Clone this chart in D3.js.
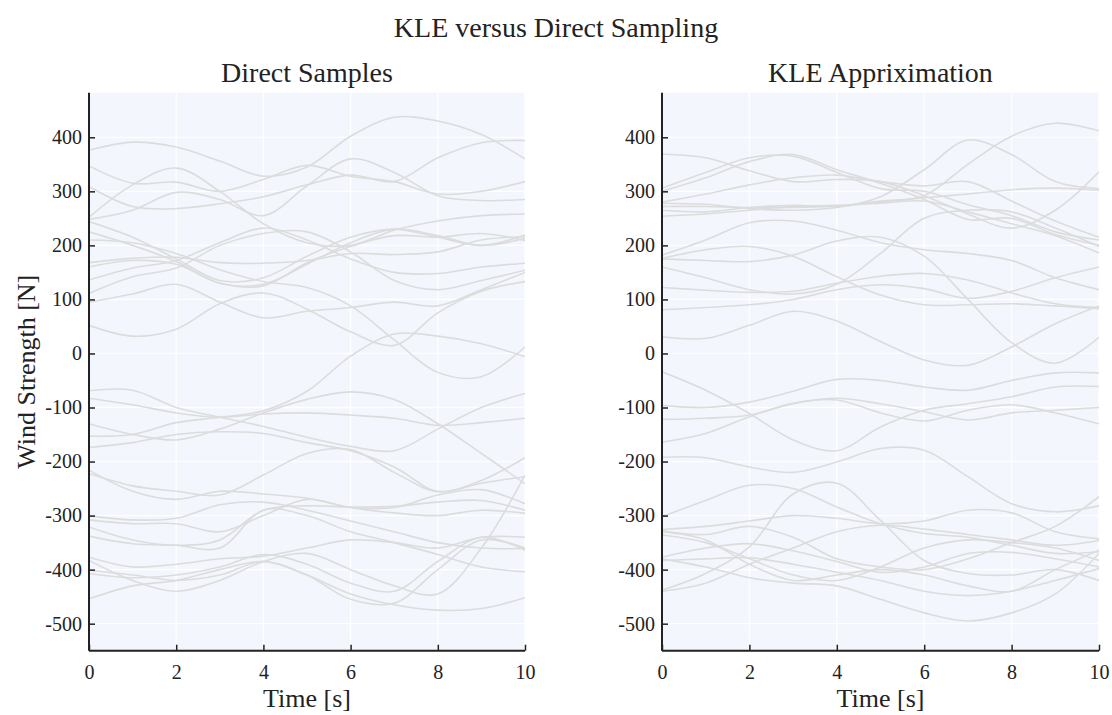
<!DOCTYPE html>
<html>
<head>
<meta charset="utf-8">
<script src="https://cdn.jsdelivr.net/npm/d3@7"></script>
<style>
  body { margin: 0; background: #fff; }
  svg text { font-family: "Liberation Serif", "Times New Roman", serif; fill: #222; }
</style>
</head>
<body>
<div id="chart"></div>
<script>
// sample times (s)
const times = [0, 1, 2, 3, 4, 5, 6, 7, 8, 9, 10];
const xTicks = [0, 2, 4, 6, 8, 10];
const yTicks = [-500, -400, -300, -200, -100, 0, 100, 200, 300, 400];

// Direct samples: one row per realisation, values at each time
const directSamples = [
  [376, 391, 382, 356, 328, 345, 402, 437, 430, 405, 360],
  [347, 315, 317, 300, 322, 348, 328, 318, 295, 300, 318],
  [309, 272, 268, 277, 290, 312, 330, 318, 362, 390, 394],
  [252, 312, 343, 300, 240, 205, 200, 228, 245, 255, 258],
  [248, 265, 298, 285, 255, 310, 360, 335, 292, 283, 285],
  [244, 215, 175, 135, 140, 180, 215, 230, 215, 200, 219],
  [225, 200, 170, 130, 128, 165, 205, 230, 218, 200, 213],
  [210, 205, 185, 155, 133, 122, 88, 25, -35, -43, 12],
  [168, 176, 178, 168, 167, 172, 185, 183, 188, 210, 216],
  [160, 172, 165, 130, 125, 168, 198, 218, 215, 222, 209],
  [136, 158, 172, 205, 232, 210, 175, 150, 148, 160, 167],
  [111, 142, 158, 200, 222, 225, 188, 135, 118, 135, 154],
  [95, 110, 128, 95, 66, 78, 85, 95, 88, 118, 150],
  [52, 32, 45, 92, 112, 82, 40, 15, 75, 115, 133],
  [-153, -150, -128, -118, -106, -70, -5, 36, 32, 18, -6],
  [-69, -68, -100, -118, -135, -155, -172, -180, -140, -100, -74],
  [-83, -95, -110, -118, -112, -110, -114, -120, -133, -128, -120],
  [-130, -150, -160, -140, -110, -85, -71, -85, -130, -185, -241],
  [-174, -165, -150, -145, -148, -165, -180, -210, -255, -235, -193],
  [-216, -255, -270, -255, -260, -268, -285, -295, -300, -290, -296],
  [-222, -245, -255, -262, -225, -185, -178, -220, -256, -240, -228],
  [-300, -308, -305, -280, -275, -290, -310, -330, -350, -360, -361],
  [-308, -315, -315, -330, -300, -270, -285, -285, -262, -252, -278],
  [-321, -345, -355, -345, -290, -282, -284, -283, -275, -272, -290],
  [-338, -352, -355, -360, -290, -300, -330, -350, -372, -395, -404],
  [-377, -395, -390, -380, -375, -360, -345, -350, -360, -340, -340],
  [-383, -420, -440, -420, -385, -370, -400, -430, -445, -360, -225],
  [-401, -410, -420, -410, -385, -410, -445, -465, -475, -472, -452],
  [-407, -415, -410, -395, -372, -390, -425, -440, -385, -340, -364],
  [-454, -430, -420, -400, -385, -410, -455, -462, -400, -345, -360]
];

// KLE approximation realisations
const kleSamples = [
  [369, 362, 338, 318, 322, 318, 292, 258, 232, 265, 336],
  [306, 335, 362, 365, 335, 305, 300, 275, 255, 225, 210],
  [300, 325, 355, 368, 340, 315, 285, 248, 250, 220, 200],
  [280, 295, 312, 325, 330, 318, 310, 318, 282, 245, 215],
  [278, 276, 268, 265, 270, 290, 340, 395, 368, 318, 305],
  [265, 262, 270, 274, 272, 282, 292, 350, 402, 426, 412],
  [272, 272, 270, 270, 273, 280, 288, 295, 303, 306, 302],
  [254, 258, 265, 272, 274, 278, 282, 262, 240, 218, 186],
  [182, 210, 242, 245, 228, 205, 192, 185, 172, 140, 118],
  [176, 192, 198, 180, 142, 108, 90, 90, 92, 88, 83],
  [160, 140, 118, 110, 128, 185, 250, 265, 262, 232, 198],
  [175, 172, 170, 182, 208, 215, 180, 100, 20, -18, 30],
  [122, 117, 113, 115, 130, 143, 148, 136, 112, 92, 85],
  [81, 85, 90, 100, 118, 127, 120, 102, 115, 140, 160],
  [31, 28, 52, 78, 60, 22, -12, -22, 12, 55, 88],
  [-34, -68, -111, -160, -180, -136, -105, -93, -80, -62, -61],
  [-96, -100, -90, -70, -48, -50, -62, -68, -50, -36, -36],
  [-122, -120, -114, -93, -83, -93, -108, -123, -110, -105, -100],
  [-164, -148, -117, -92, -86, -110, -125, -105, -95, -110, -130],
  [-192, -193, -210, -220, -201, -176, -179, -228, -278, -293, -282],
  [-302, -272, -244, -250, -284, -315, -333, -340, -355, -370, -367],
  [-326, -320, -310, -300, -305, -315, -310, -290, -295, -330, -343],
  [-328, -335, -320, -340, -380, -395, -400, -380, -350, -320, -265],
  [-336, -350, -380, -410, -420, -395, -360, -345, -350, -360, -383],
  [-377, -360, -352, -365, -385, -405, -395, -370, -368, -380, -395],
  [-383, -380, -378, -390, -405, -420, -440, -448, -440, -420, -398],
  [-438, -407, -358, -260, -240, -309, -383, -407, -410, -400, -420],
  [-440, -425, -390, -360, -330, -318, -325, -335, -345, -355, -346],
  [-380, -395, -415, -425, -430, -455, -480, -495, -480, -445, -370],
  [-330, -345, -390, -420, -410, -400, -410, -430, -440, -400, -364]
];

const W = 1112, H = 715;
const yDomain = [-550, 482.5];
const panels = [
  { title: "Direct Samples", data: directSamples, x0: 89, x1: 525, ylabel: true },
  { title: "KLE Appriximation", data: kleSamples, x0: 662, x1: 1099, ylabel: false }
];
const plotTop = 92.7, plotBottom = 650.7;

const svg = d3.select("#chart").append("svg").attr("width", W).attr("height", H);

svg.append("text").attr("x", 556).attr("y", 37).attr("text-anchor", "middle")
  .attr("font-size", 28).text("KLE versus Direct Sampling");

panels.forEach((p, i) => {
  const x = d3.scaleLinear().domain([0, 10]).range([p.x0, p.x1]);
  const y = d3.scaleLinear().domain(yDomain).range([plotBottom, plotTop]);
  const g = svg.append("g");

  g.append("rect").attr("x", p.x0).attr("y", plotTop).attr("width", p.x1 - p.x0).attr("height", plotBottom - plotTop)
    .attr("fill", "#f3f6fd");

  // white grid
  g.selectAll(".gx").data(xTicks).join("line")
    .attr("x1", d => x(d)).attr("x2", d => x(d)).attr("y1", plotTop).attr("y2", plotBottom)
    .attr("stroke", "#fff").attr("stroke-width", 1.3);
  g.selectAll(".gy").data(yTicks).join("line")
    .attr("x1", p.x0).attr("x2", p.x1).attr("y1", d => y(d)).attr("y2", d => y(d))
    .attr("stroke", "#fff").attr("stroke-width", 1.3);

  svg.append("clipPath").attr("id", "clip" + i).append("rect")
    .attr("x", p.x0).attr("y", plotTop).attr("width", p.x1 - p.x0).attr("height", plotBottom - plotTop);

  const line = d3.line().x((d, k) => x(times[k])).y(d => y(d)).curve(d3.curveCatmullRom.alpha(0.5));
  g.append("g").attr("clip-path", `url(#clip${i})`)
    .selectAll("path").data(p.data).join("path")
    .attr("d", line).attr("fill", "none").attr("stroke", "#dcdcdc").attr("stroke-width", 1.6);

  // axes with inward ticks, plain hyphen for negatives
  const xAxis = d3.axisBottom(x).tickValues(xTicks).tickSizeInner(-6).tickSizeOuter(0).tickPadding(14);
  const yAxis = d3.axisLeft(y).tickValues(yTicks).tickSizeInner(-6).tickSizeOuter(0).tickPadding(7)
    .tickFormat(d => String(d));
  const gx = g.append("g").attr("transform", `translate(0,${plotBottom})`).call(xAxis);
  const gy = g.append("g").attr("transform", `translate(${p.x0},0)`).call(yAxis);
  [gx, gy].forEach(a => {
    a.select(".domain").attr("stroke", "#222").attr("stroke-width", 2);
    a.selectAll(".tick line").attr("stroke", "#222").attr("stroke-width", 1.5);
    a.selectAll(".tick text").attr("font-size", 20).attr("fill", "#222")
      .attr("font-family", "Liberation Serif, serif");
  });
  gy.select(".domain").attr("d", `M0,${plotTop}V${plotBottom}`);
  gx.select(".domain").attr("d", `M${p.x0},0H${p.x1}`);

  g.append("text").attr("x", (p.x0 + p.x1) / 2).attr("y", 82).attr("text-anchor", "middle")
    .attr("font-size", 28).text(p.title);
  g.append("text").attr("x", (p.x0 + p.x1) / 2).attr("y", 707).attr("text-anchor", "middle")
    .attr("font-size", 26).text("Time [s]");
  if (p.ylabel) {
    g.append("text").attr("transform", `translate(35,${(plotTop + plotBottom) / 2}) rotate(-90)`)
      .attr("text-anchor", "middle").attr("font-size", 26).text("Wind Strength [N]");
  }
});
</script>
</body>
</html>
